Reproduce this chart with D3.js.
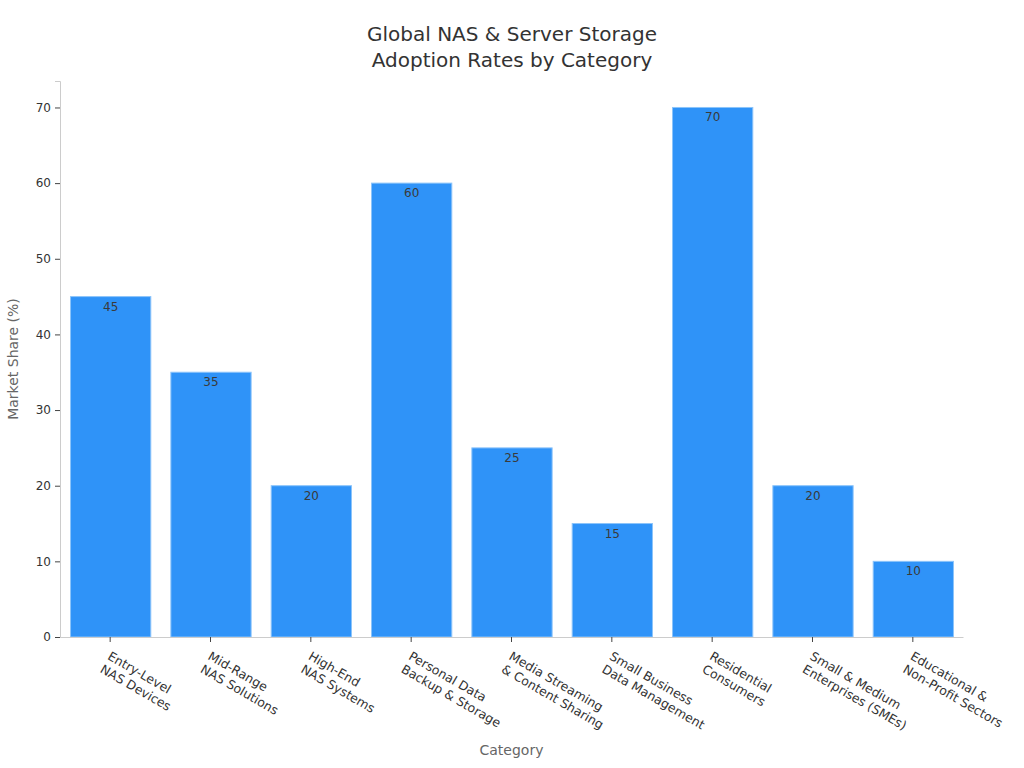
<!DOCTYPE html>
<html>
<head>
<meta charset="utf-8">
<script src="https://cdn.jsdelivr.net/npm/d3@7"></script>
<style>
  body { margin: 0; background: #fff; font-family: "DejaVu Sans", sans-serif; }
  svg text { font-family: "DejaVu Sans", sans-serif; }
</style>
</head>
<body>
<div id="chart"></div>
<script>
// Chart data
const categories = [
    ['Entry-Level', 'NAS Devices'],
    ['Mid-Range', 'NAS Solutions'],
    ['High-End', 'NAS Systems'],
    ['Personal Data', 'Backup & Storage'],
    ['Media Streaming', '& Content Sharing'],
    ['Small Business', 'Data Management'],
    ['Residential', 'Consumers'],
    ['Small & Medium', 'Enterprises (SMEs)'],
    ['Educational &', 'Non-Profit Sectors']
];
const marketShare = [45, 35, 20, 60, 25, 15, 70, 20, 10];
const yTicks = [0, 10, 20, 30, 40, 50, 60, 70];

const width = 1024, height = 768;
const margin = { top: 81, right: 61, bottom: 131, left: 60 };
const innerW = width - margin.left - margin.right;
const innerH = height - margin.top - margin.bottom;

const svg = d3.select('#chart').append('svg')
    .attr('width', width)
    .attr('height', height);

const g = svg.append('g')
    .attr('transform', `translate(${margin.left},${margin.top})`);

const keys = categories.map(c => c.join(' '));

const x = d3.scaleBand()
    .domain(keys)
    .range([0, innerW])
    .paddingInner(0.2)
    .paddingOuter(0.1);

const y = d3.scaleLinear()
    .domain([0, 73.5])
    .range([innerH, 0]);

// Title
svg.append('text')
    .attr('x', width / 2)
    .attr('text-anchor', 'middle')
    .style('font-size', '20px')
    .style('fill', '#333')
    .selectAll('tspan')
    .data(['Global NAS & Server Storage', 'Adoption Rates by Category'])
    .enter().append('tspan')
    .attr('x', width / 2)
    .attr('y', (d, i) => 41 + i * 26)
    .text(d => d);

// Bars
g.selectAll('.bar')
    .data(marketShare)
    .enter().append('rect')
    .attr('class', 'bar')
    .attr('x', (d, i) => x(keys[i]) + 0.5)
    .attr('y', d => y(d))
    .attr('width', x.bandwidth())
    .attr('height', d => innerH - y(d))
    .style('fill', '#2f93f8')
    .style('stroke', '#8cc4fa')
    .style('stroke-width', 1);

// Value labels
g.selectAll('.value-label')
    .data(marketShare)
    .enter().append('text')
    .attr('class', 'value-label')
    .attr('x', (d, i) => x(keys[i]) + x.bandwidth() / 2 + 0.5)
    .attr('y', d => y(d) + 14)
    .attr('text-anchor', 'middle')
    .style('font-size', '12px')
    .style('fill', '#3a3a3a')
    .text(d => d);

// Y axis
const yAxis = g.append('g')
    .call(d3.axisLeft(y).tickValues(yTicks).tickSize(5).tickPadding(4));
yAxis.select('.domain').style('stroke', '#ccc');
yAxis.selectAll('.tick line').style('stroke', '#444');
yAxis.selectAll('.tick text').style('font-size', '12px').style('fill', '#333');

// X axis
const xAxis = g.append('g')
    .attr('transform', `translate(0,${innerH})`)
    .call(d3.axisBottom(x).tickSize(5).tickSizeOuter(0).tickFormat(''));
xAxis.select('.domain').style('stroke', '#ccc');
xAxis.selectAll('.tick line').style('stroke', '#444');

xAxis.selectAll('.tick').each(function (d, i) {
    const t = d3.select(this).append('text')
        .attr('transform', 'translate(1,14) rotate(30)')
        .attr('text-anchor', 'start')
        .style('font-size', '12.5px')
        .style('fill', '#333');
    categories[i].forEach((line, j) => {
        t.append('tspan')
            .attr('x', 0)
            .attr('dy', j === 0 ? '0.71em' : '1.2em')
            .text(line);
    });
});

// Axis titles
svg.append('text')
    .attr('x', margin.left + innerW / 2)
    .attr('y', 755)
    .attr('text-anchor', 'middle')
    .style('font-size', '14px')
    .style('fill', '#666')
    .text('Category');

svg.append('text')
    .attr('transform', `translate(18,${margin.top + innerH / 2}) rotate(-90)`)
    .attr('text-anchor', 'middle')
    .style('font-size', '14px')
    .style('fill', '#666')
    .text('Market Share (%)');
</script>
</body>
</html>
